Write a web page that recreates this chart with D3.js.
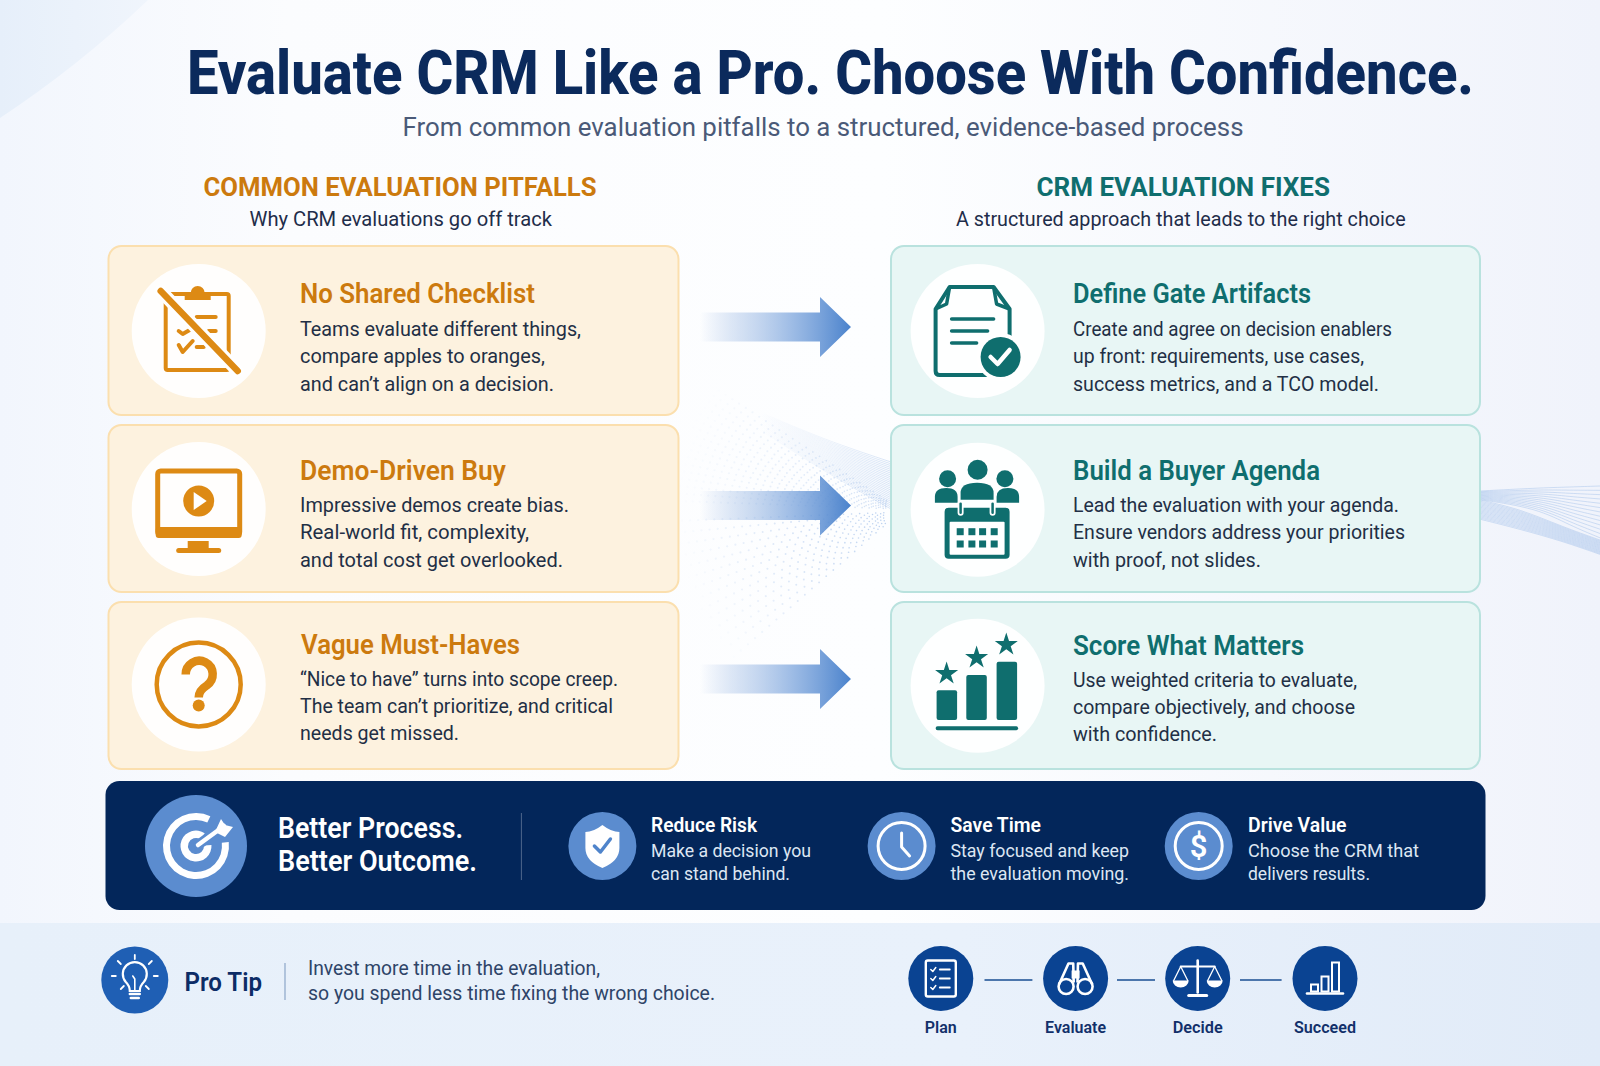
<!DOCTYPE html>
<html>
<head>
<meta charset="utf-8">
<script src="https://cdn.jsdelivr.net/npm/d3@7/dist/d3.min.js"></script>
<style>
  html, body { margin: 0; padding: 0; background: #f8fafe; }
  svg { display: block; font-family: Roboto, "Open Sans", sans-serif; }
  .title { font-size: 61px; font-weight: 800; fill: #0b2a5c; }
  .subtitle { font-size: 26px; fill: #4a5a78; }
  .head { font-size: 25px; font-weight: 700; }
  .headsub { font-size: 21px; fill: #1f2d4a; }
  .cardtitle { font-size: 27px; font-weight: 600; }
  .cardbody { font-size: 20px; fill: #222f45; }
  .bandbig { font-size: 29px; font-weight: 600; fill: #fff; }
  .bandtitle { font-size: 20px; font-weight: 600; fill: #fff; }
  .bandbody { font-size: 19px; fill: #dde6f3; }
  .protip { font-size: 26px; font-weight: 600; fill: #0c2c66; }
  .tip { font-size: 20px; fill: #2e4468; }
  .step { font-size: 17px; font-weight: 600; fill: #12306a; }
</style>
</head>
<body>
<div id="chart"></div>
<script>
// Texts
const pageTitle = "Evaluate CRM Like a Pro. Choose With Confidence.";
const pageSubtitle = "From common evaluation pitfalls to a structured, evidence-based process";
const columnHeads = ["COMMON EVALUATION PITFALLS", "CRM EVALUATION FIXES"];
const columnSubs = ["Why CRM evaluations go off track", "A structured approach that leads to the right choice"];
const pitfallTitles = ["No Shared Checklist", "Demo-Driven Buy", "Vague Must-Haves"];
const pitfallBodies = [
  ["Teams evaluate different things,", "compare apples to oranges,", "and can’t align on a decision."],
  ["Impressive demos create bias.", "Real-world fit, complexity,", "and total cost get overlooked."],
  ["“Nice to have” turns into scope creep.", "The team can’t prioritize, and critical", "needs get missed."]
];
const fixTitles = ["Define Gate Artifacts", "Build a Buyer Agenda", "Score What Matters"];
const fixBodies = [
  ["Create and agree on decision enablers", "up front: requirements, use cases,", "success metrics, and a TCO model."],
  ["Lead the evaluation with your agenda.", "Ensure vendors address your priorities", "with proof, not slides."],
  ["Use weighted criteria to evaluate,", "compare objectively, and choose", "with confidence."]
];
const bandHeadline = ["Better Process.", "Better Outcome."];
const benefitTitles = ["Reduce Risk", "Save Time", "Drive Value"];
const benefitBodies = [
  ["Make a decision you", "can stand behind."],
  ["Stay focused and keep", "the evaluation moving."],
  ["Choose the CRM that", "delivers results."]
];
const tipLabel = "Pro Tip";
const tipLines = ["Invest more time in the evaluation,", "so you spend less time fixing the wrong choice."];
const stepLabels = ["Plan", "Evaluate", "Decide", "Succeed"];

// Layout
const orange = "#dd8a14", orangeText = "#cc7a0e", teal = "#0f6e6e", navy = "#03265a";
const rowIdx = [0, 1, 2];
const rowTop = d3.scaleOrdinal().domain(rowIdx).range([246, 425, 602]);
const rowBottom = d3.scaleOrdinal().domain(rowIdx).range([415, 592, 769]);
const leftTitleY = d3.scaleOrdinal().domain(rowIdx).range([303, 480, 653.5]);
const rightTitleY = d3.scaleOrdinal().domain(rowIdx).range([303, 480, 655]);
const leftBodyY = d3.scaleOrdinal().domain(rowIdx).range([[336, 363, 391], [512, 539, 567], [686, 713, 740]]);
const rightBodyY = d3.scaleOrdinal().domain(rowIdx).range([[336, 363, 391], [512, 539, 567], [687, 714, 741]]);
const arrowY = d3.scaleOrdinal().domain(rowIdx).range([327, 505.5, 679]);
const leftCy = d3.scaleOrdinal().domain(rowIdx).range([331, 509, 684.5]);
const rightCy = d3.scaleOrdinal().domain(rowIdx).range([331, 509.7, 685.7]);
const pitfallTitleEnds = [535, 506, 520];
const pitfallLineEnds = [[581, 545, 554], [569, 529, 563], [618, 613, 459]];
const fixTitleEnds = [1311, 1320, 1304];
const fixLineEnds = [[1392, 1364, 1379], [1399, 1405, 1261], [1357, 1355, 1217]];
const benefitX = d3.scaleOrdinal().domain([0, 1, 2]).range([651, 950.5, 1248]);
const benefitCx = d3.scaleOrdinal().domain([0, 1, 2]).range([602.4, 901.6, 1198.7]);
const benefitEnds = [[757, 811, 790], [1041, 1129, 1129], [1346.5, 1419, 1370]];
const stepX = d3.scaleOrdinal().domain(stepLabels).range([940.8, 1075.6, 1197.7, 1325]);
const stepWidth = d3.scaleOrdinal().domain(stepLabels).range([32, 61, 50, 62]);

const svg = d3.select("#chart").append("svg")
  .attr("width", 1600)
  .attr("height", 1066)
  .attr("viewBox", "0 0 1600 1066");
const defs = svg.append("defs");

function linGrad(id, x1, x2, stops) {
  const g = defs.append("linearGradient").attr("id", id)
    .attr("gradientUnits", "userSpaceOnUse")
    .attr("x1", x1).attr("x2", x2).attr("y1", 0).attr("y2", 0);
  stops.forEach(s => g.append("stop").attr("offset", s[0]).attr("stop-color", s[1]).attr("stop-opacity", s[2]));
}
linGrad("bg", 0, 1600, [[0, "#f2f6fd", 1], [0.18, "#fbfcfe", 1], [0.55, "#fdfeff", 1], [1, "#f0f3fb", 1]]);
linGrad("corner", 0, 150, [[0, "#e6effa", 1], [1, "#f0f5fc", 1]]);
linGrad("arrow", 700, 851, [[0, "#8fb0e0", 0], [0.25, "#9dbae4", 0.4], [0.6, "#7ba4dc", 0.72], [1, "#4a82cc", 1]]);
linGrad("footer", 0, 1600, [[0, "#e7f0fa", 1], [0.6, "#e9f1fb", 1], [1, "#e1ebf8", 1]]);
linGrad("streak", 760, 891, [[0, "#9dbce8", 0], [0.5, "#9dbce8", 0.22], [1, "#9dbce8", 0.55]]);

// text squeezed to the run it has in the picture
function put(g, str, x0, x1, y, cls, fill) {
  const t = g.append("text").attr("class", cls).attr("x", x0).attr("y", y).text(str);
  if (x1 != null) t.attr("textLength", x1 - x0).attr("lengthAdjust", "spacingAndGlyphs");
  if (fill) t.style("fill", fill);
  return t;
}

// Background
svg.append("rect").attr("width", 1600).attr("height", 1066).attr("fill", "url(#bg)");
svg.append("path").attr("d", "M0,0 L148,0 Q80,65 0,118 Z").attr("fill", "url(#corner)");

// Dotted fans behind the arrows
const dots = svg.append("g").attr("fill", "#9dbce8");
function fan(apexX, apexY, angles, step, maxDist, op) {
  angles.forEach((a, i) => {
    // staggered along each ray so the dots read as rays, not arcs
    d3.range(2 + (i % 3) * 0.37, maxDist / step).forEach(k => {
      const d = k * step * (1 + Math.abs(a) * 0.25);
      if (d > maxDist) return;
      dots.append("circle")
        .attr("cx", apexX - d * Math.cos(a))
        .attr("cy", apexY + d * Math.sin(a))
        .attr("r", 0.7 + 0.5 * d / maxDist)
        .attr("opacity", op * (1 - d / maxDist));
    });
  });
}
// upper fan goes up-left, lower fan down-left (radians off the horizontal)
fan(900, 509, d3.range(-0.58, -0.03, 0.034), 7, 225, 0.5);
fan(900, 512, d3.range(0.04, 0.72, 0.052), 8, 225, 0.75);

// Wave streaks
const waveLine = d3.line().curve(d3.curveBasis);
const waves = svg.append("g").attr("fill", "none").attr("stroke", "#9dbce8").attr("stroke-width", 0.8);
const lerpPath = (a, b, u) => a.map((p, i) => [p[0], p[1] + (b[i][1] - p[1]) * u]);
const waveTop = [[1480, 491], [1537, 488], [1570, 487], [1600, 486]];
const waveMid = [[1480, 500], [1520, 509], [1563, 527], [1600, 540]];
const waveLow = [[1480, 520], [1537, 530], [1570, 542], [1600, 555]];
d3.range(0, 1.001, 0.08).forEach(u => {
  waves.append("path").attr("opacity", 0.55).attr("d", waveLine(lerpPath(waveTop, waveMid, u)));
});
d3.range(0, 1.001, 0.06).forEach(u => {
  waves.append("path").attr("opacity", 0.55).attr("d", waveLine(lerpPath(waveMid, waveLow, u)));
});
const midWaves = svg.append("g").attr("fill", "none").attr("stroke", "url(#streak)").attr("stroke-width", 0.7);
d3.range(0, 1.001, 0.04).forEach(u => {
  midWaves.append("path").attr("d", waveLine([[760, 412 + 18 * u], [825, 440 + 32 * u], [891, 462 + 47 * u]]));
});

// Header
put(svg, pageTitle, 187, 1474, 93.5, "title");
put(svg, pageSubtitle, 402.5, 1243.5, 136, "subtitle");
put(svg, columnHeads[0], 203.5, 596.5, 196, "head", orangeText);
put(svg, columnSubs[0], 249.5, 552, 226, "headsub");
put(svg, columnHeads[1], 1036.5, 1330, 196, "head", teal);
put(svg, columnSubs[1], 956, 1405.6, 226, "headsub");

// Cards
function drawCards(cls, x0, x1, fill, stroke, titleX, titles, bodies, titleEnds, lineEnds, textColor, cx, cy, titleY, bodyY, icons) {
  const cards = svg.selectAll("g." + cls).data(rowIdx).join("g").attr("class", cls);
  cards.append("rect")
    .attr("x", x0).attr("y", d => rowTop(d))
    .attr("width", x1 - x0).attr("height", d => rowBottom(d) - rowTop(d))
    .attr("rx", 13)
    .attr("fill", fill).attr("stroke", stroke).attr("stroke-width", 2);
  cards.append("circle")
    .attr("cx", cx).attr("cy", d => cy(d)).attr("r", 67).attr("fill", "#fff").attr("opacity", 0.93);
  cards.each(function (d) {
    const c = d3.select(this);
    const tx = titleX + (cls === "pit" && d === 2 ? 1 : 0);
    put(c, titles[d], tx, titleEnds[d], titleY(d), "cardtitle", textColor);
    bodies[d].forEach((line, i) => put(c, line, titleX, lineEnds[d][i], bodyY(d)[i], "cardbody"));
    icons[d](c.append("g").attr("transform", `translate(${cx},${cy(d)})`));
  });
}

function line(g, pts, color, w) {
  return g.append("path").attr("d", d3.line()(pts)).attr("fill", "none")
    .attr("stroke", color).attr("stroke-width", w)
    .attr("stroke-linecap", "round").attr("stroke-linejoin", "round");
}

function iconClipboard(g) {
  g.append("rect").attr("x", -33).attr("y", -37).attr("width", 63).attr("height", 76).attr("rx", 2)
    .attr("fill", "none").attr("stroke", orange).attr("stroke-width", 4);
  g.append("path").attr("d", "M-14,-31 V-36 Q-14,-38 -12,-38 H-8 A7,7 0 0 1 6,-38 H10 Q12,-38 12,-36 V-31 Z").attr("fill", orange);
  line(g, [[-2, -14], [17, -14]], orange, 4);
  line(g, [[10, 0], [17, 0]], orange, 4);
  line(g, [[-2, 16], [5, 16]], orange, 4);
  line(g, [[-20, 0], [-16, 3], [-9, -1]], orange, 4);
  line(g, [[-20, 14], [-16, 21], [-6, 10]], orange, 4);
  line(g, [[-38, -40], [39, 40]], "#fff", 13);
  line(g, [[-38, -40], [39, 40]], orange, 6.5);
}
function iconMonitor(g) {
  g.append("rect").attr("x", -41).attr("y", -38).attr("width", 82).attr("height", 64).attr("rx", 3)
    .attr("fill", "none").attr("stroke", orange).attr("stroke-width", 5);
  g.append("rect").attr("x", -43).attr("y", 18).attr("width", 86).attr("height", 11).attr("rx", 3).attr("fill", orange);
  g.append("rect").attr("x", -11).attr("y", 32).attr("width", 21).attr("height", 8).attr("fill", orange);
  g.append("rect").attr("x", -22.5).attr("y", 39).attr("width", 45).attr("height", 5).attr("rx", 2.5).attr("fill", orange);
  g.append("circle").attr("cy", -8).attr("r", 15.5).attr("fill", orange);
  g.append("path").attr("d", "M-5,-17 L8,-8 L-5,1 Z").attr("fill", "#fff");
}
function iconQuestion(g) {
  g.append("circle").attr("r", 42).attr("fill", "none").attr("stroke", orange).attr("stroke-width", 4.5);
  g.append("path").attr("d", "M-13,-10 A13.5,13.5 0 1 1 8,1 Q0,6 0,13")
    .attr("fill", "none").attr("stroke", orange).attr("stroke-width", 8.5);
  g.append("circle").attr("cy", 21).attr("r", 6).attr("fill", orange);
}
function iconDoc(g) {
  g.append("path").attr("d", "M16,44 H-38 Q-42,44 -42,40 V-22 L-28,-44 H16 L32,-22 V15")
    .attr("fill", "none").attr("stroke", teal).attr("stroke-width", 4).attr("stroke-linejoin", "round");
  g.append("path").attr("d", "M-42,-22 L-31,-27 L-28,-44 M16,-44 L19,-27 L32,-22")
    .attr("fill", "none").attr("stroke", teal).attr("stroke-width", 3.5).attr("stroke-linejoin", "round");
  line(g, [[-26, -12], [16, -12]], teal, 3.5);
  line(g, [[-26, 0], [10, 0]], teal, 3.5);
  line(g, [[-26, 12], [-1, 12]], teal, 3.5);
  g.append("circle").attr("cx", 23).attr("cy", 26).attr("r", 24).attr("fill", "#fff");
  g.append("circle").attr("cx", 23).attr("cy", 26).attr("r", 20).attr("fill", teal);
  line(g, [[13, 26], [20, 33], [32, 19]], "#fff", 4.5);
}
function iconAgenda(g) {
  const dome = (x0, x1, y0, y1) => `M${x0},${y1} V${y0 + (y1 - y0) * 0.6} Q${x0},${y0} ${(x0 + x1) / 2},${y0} Q${x1},${y0} ${x1},${y0 + (y1 - y0) * 0.6} V${y1} Z`;
  g.append("circle").attr("cy", -40).attr("r", 10).attr("fill", teal);
  g.append("path").attr("d", dome(-17, 16, -27, -10)).attr("fill", teal);
  [-30, 27.3].forEach(x => g.append("circle").attr("cx", x).attr("cy", -31).attr("r", 8.5).attr("fill", teal));
  g.append("path").attr("d", dome(-42.7, -20, -21.7, -7)).attr("fill", teal);
  g.append("path").attr("d", dome(19, 41.5, -21.7, -7)).attr("fill", teal);
  g.append("rect").attr("x", -33).attr("y", -2).attr("width", 65).attr("height", 51).attr("rx", 4).attr("fill", teal);
  g.append("rect").attr("x", -28).attr("y", 12).attr("width", 55).attr("height", 33).attr("rx", 1).attr("fill", "#fff");
  [-17, 15].forEach(x => {
    line(g, [[x, -6], [x, 3]], "#fff", 6);
    line(g, [[x, -6], [x, 3]], teal, 2.5);
  });
  [-17.4, -5.7, 5, 16.6].forEach(x => [22, 34.3].forEach(y =>
    g.append("rect").attr("x", x - 3.5).attr("y", y - 3.5).attr("width", 7).attr("height", 7).attr("fill", teal)));
}
function iconScore(g) {
  [[-41, 4.5, 20.5], [-11.3, -10.7, 20.5], [19, -24, 20.5]].forEach(b =>
    g.append("rect").attr("x", b[0]).attr("y", b[1]).attr("width", b[2]).attr("height", 34.3 - b[1]).attr("rx", 2).attr("fill", teal));
  g.append("rect").attr("x", -42).attr("y", 40.5).attr("width", 82.5).attr("height", 4).attr("rx", 2).attr("fill", teal);
  const star = d3.symbol().type(d3.symbolStar).size(165);
  [[-31, -12], [-1, -28], [28.7, -41]].forEach(p =>
    g.append("path").attr("d", star()).attr("transform", `translate(${p[0]},${p[1]})`).attr("fill", teal));
}

drawCards("pit", 108.5, 678.5, "#fdf2df", "#fbdfae", 300, pitfallTitles, pitfallBodies, pitfallTitleEnds, pitfallLineEnds, orangeText, 198.7, leftCy, leftTitleY, leftBodyY, [iconClipboard, iconMonitor, iconQuestion]);
drawCards("fix", 891, 1480, "#e8f6f5", "#b9e2de", 1073, fixTitles, fixBodies, fixTitleEnds, fixLineEnds, teal, 977.6, rightCy, rightTitleY, rightBodyY, [iconDoc, iconAgenda, iconScore]);

// Arrows
const shaftHalf = 14.5, headHalf = 30;
svg.selectAll("path.arrow").data(rowIdx).join("path").attr("class", "arrow")
  .attr("fill", "url(#arrow)")
  .attr("d", d => {
    const y = arrowY(d);
    return d3.line()([[700, y - shaftHalf], [820, y - shaftHalf], [820, y - headHalf], [851, y], [820, y + headHalf], [820, y + shaftHalf], [700, y + shaftHalf]]) + "Z";
  });

// Navy band
svg.append("rect").attr("x", 105.5).attr("y", 781).attr("width", 1380).attr("height", 129).attr("rx", 14).attr("fill", navy);
const target = svg.append("g").attr("transform", "translate(196,846)");
target.append("circle").attr("r", 51).attr("fill", "#5b8ccf");
const arcGen = d3.arc();
target.append("path").attr("fill", "#fff").attr("d", arcGen({ innerRadius: 26, outerRadius: 33, startAngle: 1.45, endAngle: 2 * Math.PI + 0.45 }));
target.append("path").attr("fill", "#fff").attr("d", arcGen({ innerRadius: 8, outerRadius: 15.5, startAngle: 1.5, endAngle: 2 * Math.PI + 0.6 }));
line(target, [[2, -1], [28, -20]], "#5b8ccf", 10);
line(target, [[2, -1], [28, -20]], "#fff", 4.5);
target.append("path").attr("d", "M19,-14 L25,-27 L29,-21 L37,-19 L29,-9 Z").attr("fill", "#fff");

put(svg, bandHeadline[0], 278, 463, 838, "bandbig");
put(svg, bandHeadline[1], 278, 477, 870.5, "bandbig");
svg.append("line").attr("x1", 521.4).attr("x2", 521.4).attr("y1", 813).attr("y2", 880).attr("stroke", "#fff").attr("stroke-opacity", 0.3);

const benefits = svg.selectAll("g.benefit").data([0, 1, 2]).join("g").attr("class", "benefit");
benefits.append("circle").attr("cx", d => benefitCx(d)).attr("cy", 846).attr("r", 34).attr("fill", "#5b8ccf");
benefits.each(function (d) {
  const b = d3.select(this);
  put(b, benefitTitles[d], benefitX(d), benefitEnds[d][0], 832, "bandtitle");
  benefitBodies[d].forEach((l, i) => put(b, l, benefitX(d), benefitEnds[d][i + 1], [857, 880][i], "bandbody"));
});
const shield = svg.append("g").attr("transform", "translate(602.4,846)");
shield.append("path").attr("d", "M0,-21 Q9,-14 17,-14 V2 Q17,15 0,22 Q-17,15 -17,2 V-14 Q-9,-14 0,-21 Z").attr("fill", "#fff");
line(shield, [[-8, 0], [-2, 6], [8, -7]], "#4f84cb", 3.5);
const clock = svg.append("g").attr("transform", "translate(901.6,846)");
clock.append("circle").attr("r", 23.5).attr("fill", "none").attr("stroke", "#fff").attr("stroke-width", 3);
line(clock, [[0, -13], [0, 1], [8, 10]], "#fff", 3);
const dollar = svg.append("g").attr("transform", "translate(1198.7,846)");
dollar.append("circle").attr("r", 23.5).attr("fill", "none").attr("stroke", "#fff").attr("stroke-width", 3);
dollar.append("text").attr("text-anchor", "middle").attr("y", 11).style("font-size", "31px").style("font-weight", 600).style("fill", "#fff").text("$");

// Footer band
svg.append("rect").attr("y", 923).attr("width", 1600).attr("height", 143).attr("fill", "url(#footer)");
const bulb = svg.append("g").attr("transform", "translate(134.8,980)");
bulb.append("circle").attr("r", 33.5).attr("fill", "#1f5fb4");
bulb.append("path").attr("d", "M-5,11 Q-5,6 -9,2 A12,12 0 1 1 9,2 Q5,6 5,11 Z").attr("fill", "none").attr("stroke", "#fff").attr("stroke-width", 2.2);
line(bulb, [[0, 11], [0, -1], [-2, -4]], "#fff", 1.6);
line(bulb, [[-5, 14], [5, 14]], "#fff", 2.4);
line(bulb, [[-4, 18], [4, 18]], "#fff", 2.4);
[[0, -25, 0, -21], [-17, -19, -14, -16], [17, -19, 14, -16], [-23, -4, -19, -4], [23, -4, 19, -4], [-14, 9, -11, 6], [14, 9, 11, 6]].forEach(r =>
  line(bulb, [[r[0], r[1]], [r[2], r[3]]], "#fff", 1.8));

put(svg, tipLabel, 184.5, 262, 991, "protip");
svg.append("line").attr("x1", 285).attr("x2", 285).attr("y1", 963).attr("y2", 1000).attr("stroke", "#8ba6c8").attr("stroke-width", 1.2);
put(svg, tipLines[0], 308, 600, 975, "tip");
put(svg, tipLines[1], 308, 715, 1000, "tip");

// Process steps
const stepGap = [[984.5, 1032.4], [1117, 1155], [1240, 1281.6]];
svg.selectAll("line.link").data(stepGap).join("line").attr("class", "link")
  .attr("x1", d => d[0]).attr("x2", d => d[1]).attr("y1", 980).attr("y2", 980)
  .attr("stroke", "#4c76ac").attr("stroke-width", 1.8);
const steps = svg.selectAll("g.stepg").data(stepLabels).join("g").attr("class", "stepg");
steps.append("circle").attr("cx", d => stepX(d)).attr("cy", 978.5).attr("r", 32.5).attr("fill", "#0a4392");
steps.append("text").attr("class", "step").attr("x", d => stepX(d) - stepWidth(d) / 2).attr("y", 1033)
  .attr("textLength", d => stepWidth(d)).attr("lengthAdjust", "spacingAndGlyphs").text(d => d);

const plan = svg.append("g").attr("transform", "translate(940.8,978.5)");
plan.append("rect").attr("x", -15).attr("y", -18).attr("width", 30).attr("height", 36).attr("rx", 2).attr("fill", "none").attr("stroke", "#fff").attr("stroke-width", 2.4);
[-9, 0, 9].forEach(y => {
  line(plan, [[-10, y], [-8, y + 2], [-5, y - 2]], "#fff", 1.5);
  line(plan, [[-1, y], [9, y]], "#fff", 1.8);
});
const binoc = svg.append("g").attr("transform", "translate(1075.6,978.5)");
[-9.5, 9.5].forEach(x => {
  binoc.append("circle").attr("cx", x).attr("cy", 8).attr("r", 7.5).attr("fill", "none").attr("stroke", "#fff").attr("stroke-width", 2.6);
  binoc.append("path").attr("d", `M${x * 1.75},6 L${x * 0.75},-15 H${x * 0.25} L${x * 0.2},4`).attr("fill", "none").attr("stroke", "#fff").attr("stroke-width", 2.6).attr("stroke-linejoin", "round");
});
binoc.append("rect").attr("x", -4).attr("y", -8).attr("width", 8).attr("height", 8).attr("fill", "#fff");
const scales = svg.append("g").attr("transform", "translate(1197.7,978.5)");
line(scales, [[0, -18], [0, 14]], "#fff", 2.6);
line(scales, [[-17, -12], [17, -12]], "#fff", 2);
line(scales, [[-9, 17], [9, 17]], "#fff", 3);
[-17, 17].forEach(x => {
  line(scales, [[x - 7, 2], [x, -12], [x + 7, 2]], "#fff", 1.3);
  scales.append("path").attr("d", `M${x - 8},2 H${x + 8} A8,7 0 0 1 ${x - 8},2 Z`).attr("fill", "#fff");
});
const bars = svg.append("g").attr("transform", "translate(1325,978.5)");
[[-14, 6, 7], [-3.5, -2, 15], [7, -16, 29]].forEach(b =>
  bars.append("rect").attr("x", b[0]).attr("y", b[1]).attr("width", 7).attr("height", b[2]).attr("fill", "none").attr("stroke", "#fff").attr("stroke-width", 2));
line(bars, [[-18, 15], [18, 15]], "#fff", 2.6);
</script>
</body>
</html>
